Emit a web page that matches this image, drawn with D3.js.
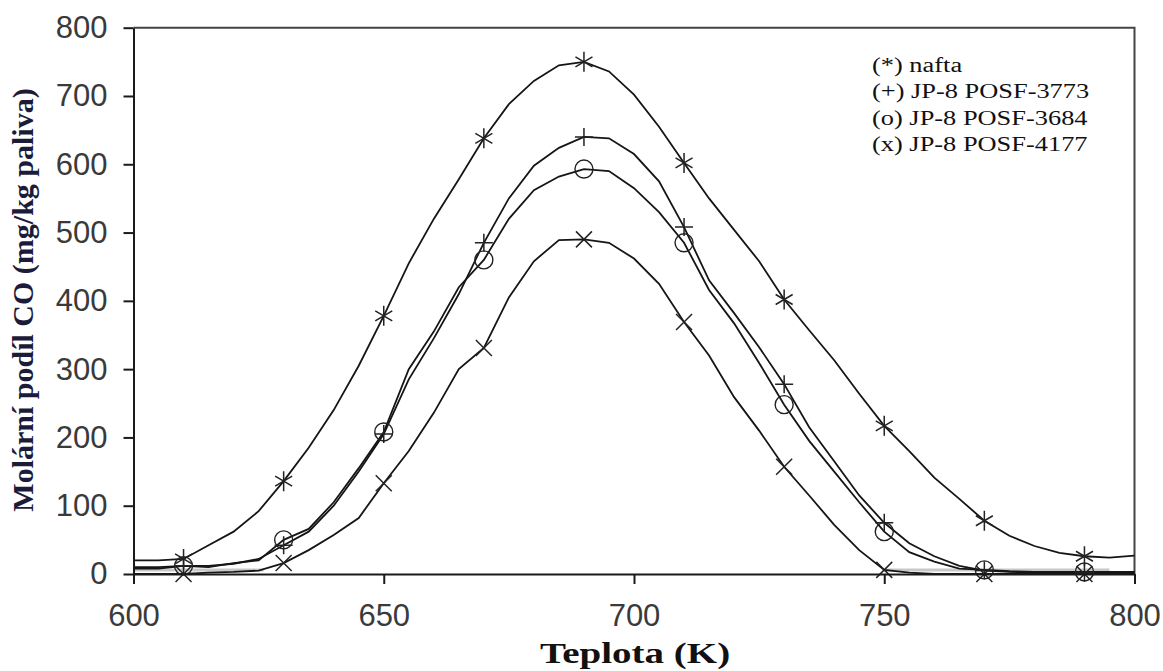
<!DOCTYPE html>
<html>
<head>
<meta charset="utf-8">
<script src="https://cdn.jsdelivr.net/npm/d3@7"></script>
<style>
    body { margin: 0; background: #fff; }
    svg { display: block; }
</style>
</head>
<body>
<div id="chart"></div>
<script>

const width = 1163;
const height = 671;

// temperature grid (K), every 5 K
const temps = [600, 605, 610, 615, 620, 625, 630, 635, 640, 645, 650, 655, 660, 665, 670, 675, 680, 685, 690, 695,
    700, 705, 710, 715, 720, 725, 730, 735, 740, 745, 750, 755, 760, 765, 770, 775, 780, 785, 790, 795, 800];

// (*) nafta
const naftaVals = [20, 20, 22, 42, 62, 92, 136, 185, 240, 305, 378, 455, 520, 578, 638, 688, 722, 745, 750, 736,
    702, 655, 602, 550, 504, 458, 402, 357, 313, 264, 217, 180, 141, 110, 78, 56, 41, 31, 26, 24, 27];
// (+) JP-8 POSF-3773
const plusVals = [10, 10, 12, 12, 15, 22, 42, 62, 100, 150, 205, 285, 345, 410, 485, 550, 598, 624, 640, 638,
    615, 575, 508, 430, 382, 332, 278, 215, 165, 115, 75, 45, 26, 12, 5, 3, 2, 2, 2, 2, 2];
// (o) JP-8 POSF-3684
const circVals = [8, 8, 12, 10, 16, 20, 50, 66, 105, 155, 208, 300, 355, 420, 460, 520, 562, 582, 593, 590,
    565, 530, 485, 416, 367, 309, 248, 195, 150, 105, 62, 32, 18, 8, 6, 4, 3, 3, 3, 3, 3];
// (x) JP-8 POSF-4177
const crossVals = [0, 0, 0, 2, 3, 5, 16, 35, 57, 82, 133, 180, 236, 300, 331, 405, 458, 489, 490, 485,
    462, 425, 369, 320, 259, 210, 157, 115, 72, 35, 6, 2, 0, 0, 0, 0, 0, 0, 0, 0, 0];

// light grey trace sitting on the baseline
const greyT = [[600, 626], [750, 795]];
const greyVal = 6;

const markerT = [610, 630, 650, 670, 690, 710, 730, 750, 770, 790];

const xTicks = [600, 650, 700, 750, 800];
const yTicks = [0, 100, 200, 300, 400, 500, 600, 700, 800];

const legendLabels = ["(*) nafta", "(+) JP-8 POSF-3773", "(o) JP-8 POSF-3684", "(x) JP-8 POSF-4177"];

const series = [
    { name: "nafta", vals: naftaVals, mark: "star" },
    { name: "3773", vals: plusVals, mark: "plus" },
    { name: "3684", vals: circVals, mark: "circle" },
    { name: "4177", vals: crossVals, mark: "cross" }
];

const margin = { top: 27.7, left: 133.5, right: 28.5, bottom: 97 };

const xScale = d3.scaleLinear()
    .domain([600, 800])
    .range([margin.left, width - margin.right]);

const yScale = d3.scaleLinear()
    .domain([0, 800])
    .range([height - margin.bottom, margin.top]);

const svg = d3.select("#chart").append("svg")
    .attr("width", width)
    .attr("height", height);

// frame (top + right)
svg.append("path")
    .attr("d", `M${xScale(600)},${yScale(800)} H${xScale(800)} V${yScale(0)}`)
    .attr("fill", "none")
    .attr("stroke", "#444")
    .attr("stroke-width", 2);

// grey baseline trace
svg.selectAll(".grey")
    .data(greyT)
    .enter()
    .append("line")
    .attr("class", "grey")
    .attr("x1", d => xScale(d[0]))
    .attr("x2", d => xScale(d[1]))
    .attr("y1", yScale(greyVal))
    .attr("y2", yScale(greyVal))
    .attr("stroke", "#c8c8c8")
    .attr("stroke-width", 3);

const line = d3.line()
    .x((d, i) => xScale(temps[i]))
    .y(d => yScale(d));

svg.selectAll(".curve")
    .data(series)
    .enter()
    .append("path")
    .attr("class", "curve")
    .attr("d", d => line(d.vals))
    .attr("fill", "none")
    .attr("stroke", "#151515")
    .attr("stroke-width", 1.8);

// marker shapes
const shapes = {
    star: "M0,-10V10M-8.5,-5L8.5,5M-8.5,5L8.5,-5",
    plus: "M-9,0H9M0,-9V9",
    cross: "M-8,-8L8,8M-8,8L8,-8"
};

series.forEach(s => {
    const pts = markerT.map(t => ({ t: t, v: s.vals[temps.indexOf(t)] }));
    const g = svg.append("g").attr("class", "marks-" + s.name);
    if (s.mark === "circle") {
        g.selectAll("circle")
            .data(pts)
            .enter()
            .append("circle")
            .attr("cx", d => xScale(d.t))
            .attr("cy", d => yScale(d.v))
            .attr("r", 9)
            .attr("fill", "none")
            .attr("stroke", "#222")
            .attr("stroke-width", 1.4);
    } else {
        g.selectAll("path")
            .data(pts)
            .enter()
            .append("path")
            .attr("transform", d => `translate(${xScale(d.t)},${yScale(d.v)})`)
            .attr("d", shapes[s.mark])
            .attr("fill", "none")
            .attr("stroke", "#222")
            .attr("stroke-width", 1.5);
    }
});

// axes
const xAxis = svg.append("g")
    .attr("transform", `translate(0,${yScale(0)})`)
    .call(d3.axisBottom(xScale).tickValues(xTicks).tickSize(10).tickSizeOuter(0).tickPadding(20));

const yAxis = svg.append("g")
    .attr("transform", `translate(${xScale(600)},0)`)
    .call(d3.axisLeft(yScale).tickValues(yTicks).tickSize(10).tickSizeOuter(0).tickPadding(16));

[xAxis, yAxis].forEach(a => {
    a.select(".domain").attr("stroke", "#1a1a1a").attr("stroke-width", 2);
    a.selectAll(".tick line").attr("stroke", "#1a1a1a").attr("stroke-width", 2);
    a.selectAll(".tick text")
        .attr("font-family", "Liberation Sans, Arial, sans-serif")
        .attr("font-size", 31)
        .attr("fill", "#3a3a3a");
});

// axis titles (the source text is stretched sideways)
svg.append("text")
    .attr("transform", "translate(635,663) scale(1.3,1)")
    .attr("text-anchor", "middle")
    .attr("font-family", "Liberation Serif, Times New Roman, serif")
    .attr("font-weight", "bold")
    .attr("font-size", 30)
    .attr("fill", "#111")
    .text("Teplota (K)");

svg.append("text")
    .attr("transform", "translate(33,300) rotate(-90)")
    .attr("text-anchor", "middle")
    .attr("font-family", "Liberation Serif, Times New Roman, serif")
    .attr("font-weight", "bold")
    .attr("font-size", 30)
    .attr("fill", "#1c1c3a")
    .text("Molární podíl CO (mg/kg paliva)");

// legend
svg.selectAll(".legend")
    .data(legendLabels)
    .enter()
    .append("text")
    .attr("class", "legend")
    .attr("transform", (d, i) => `translate(872,${72 + i * 26.4}) scale(1.32,1)`)
    .attr("font-family", "Liberation Serif, Times New Roman, serif")
    .attr("font-size", 20)
    .attr("fill", "#111")
    .text(d => d);

</script>
</body>
</html>
